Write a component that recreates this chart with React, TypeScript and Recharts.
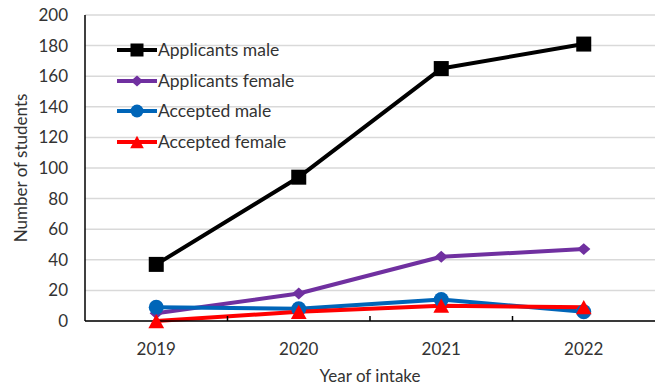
import { LineChart, Line, XAxis, YAxis, CartesianGrid, Legend } from 'recharts';

const years = ['2019', '2020', '2021', '2022'];
const applicantsMale = [37, 94, 165, 181];
const applicantsFemale = [5, 18, 42, 47];
const acceptedMale = [9, 8, 14, 6];
const acceptedFemale = [0, 6, 10, 9];
const yTicks = [0, 20, 40, 60, 80, 100, 120, 140, 160, 180, 200];

const data = years.map((year, i) => ({
  year,
  applicantsMale: applicantsMale[i],
  applicantsFemale: applicantsFemale[i],
  acceptedMale: acceptedMale[i],
  acceptedFemale: acceptedFemale[i],
}));

const W = 664;
const H = 386;
const M = { top: 15, right: 9, bottom: 0, left: 0 };
const Y_W = 85;
const X_H = 65;
const PLOT_W = W - M.left - M.right - Y_W;
const HALF_BAND = PLOT_W / years.length / 2;
const FONT = 'Lato, "Liberation Sans", sans-serif';
const TEXT = '#333';

type Marker = 'square' | 'diamond' | 'circle' | 'triangle';

const markerShape = (kind: Marker, cx: number, cy: number, color: string, s: number, key?: string | number) => {
  if (kind === 'square') {
    return <rect key={key} x={cx - s / 2} y={cy - s / 2} width={s} height={s} fill={color} />;
  }
  if (kind === 'circle') {
    return <circle key={key} cx={cx} cy={cy} r={s / 2} fill={color} />;
  }
  if (kind === 'diamond') {
    const w = s * 0.95;
    const h = s * 0.85;
    return (
      <polygon key={key} fill={color}
        points={`${cx},${cy - h / 2} ${cx + w / 2},${cy} ${cx},${cy + h / 2} ${cx - w / 2},${cy}`} />
    );
  }
  const w = s * 1.05;
  const h = s * 0.95;
  return (
    <polygon key={key} fill={color}
      points={`${cx},${cy - h / 2} ${cx + w / 2},${cy + h / 2} ${cx - w / 2},${cy + h / 2}`} />
  );
};

const series: { key: string; name: string; color: string; marker: Marker }[] = [
  { key: 'applicantsMale', name: 'Applicants male', color: '#000000', marker: 'square' },
  { key: 'applicantsFemale', name: 'Applicants female', color: '#7030a0', marker: 'diamond' },
  { key: 'acceptedMale', name: 'Accepted male', color: '#0065b8', marker: 'circle' },
  { key: 'acceptedFemale', name: 'Accepted female', color: '#ff0000', marker: 'triangle' },
];

// year label plus a short inward tick at the boundary to the next category
const YearTick = (props: { x?: number; y?: number; payload?: { value: string; index: number } }) => {
  const { x = 0, y = 0, payload } = props;
  if (!payload) return null;
  const idx = years.indexOf(payload.value);
  return (
    <g>
      {idx < years.length - 1 && (
        <line x1={x + HALF_BAND} x2={x + HALF_BAND} y1={y - 5} y2={y} stroke="#000" strokeWidth={1.5} />
      )}
      <text x={x} y={y + 34} textAnchor="middle" fontSize={17} fill={TEXT} fontFamily={FONT}>
        {payload.value}
      </text>
    </g>
  );
};

const LegendBox = () => (
  <div style={{ fontFamily: FONT, fontSize: 17.5, color: TEXT }}>
    {series.map(s => (
      <div key={s.key} style={{ display: 'flex', alignItems: 'center', height: 30.5 }}>
        <svg width={41} height={20} style={{ display: 'block' }}>
          <line x1={0} x2={40} y1={10} y2={10} stroke={s.color} strokeWidth={4} />
          {markerShape(s.marker, 20, 10, s.color, 13)}
        </svg>
        <span style={{ lineHeight: '20px' }}>{s.name}</span>
      </div>
    ))}
  </div>
);

export default function App() {
  return (
    <div style={{ position: 'absolute', left: 0, top: 0, width: W, height: H, background: '#fff', fontFamily: FONT }}>
      <LineChart width={W} height={H} data={data} margin={M}>
        <CartesianGrid vertical={false} stroke="#d9d9d9" strokeWidth={1.5} yAxisId="left" />
        <XAxis
          dataKey="year"
          height={X_H}
          padding={{ left: HALF_BAND, right: HALF_BAND }}
          axisLine={{ stroke: '#000', strokeWidth: 1.5 }}
          tickLine={false}
          tickSize={0}
          tickMargin={0}
          interval={0}
          tick={<YearTick />}
          label={{ value: 'Year of intake', position: 'insideBottom', offset: 4, fill: TEXT, fontSize: 17 }}
        />
        <XAxis
          xAxisId="top"
          dataKey="year"
          orientation="top"
          height={0}
          tick={false}
          tickLine={false}
          axisLine={{ stroke: '#262626', strokeWidth: 1.5 }}
        />
        <YAxis
          yAxisId="left"
          width={Y_W}
          domain={[0, 200]}
          ticks={yTicks}
          interval={0}
          axisLine={{ stroke: '#000', strokeWidth: 1.5 }}
          tickLine={false}
          tickMargin={11}
          tick={{ fill: TEXT, fontSize: 17 }}
          label={{ value: 'Number of students', angle: -90, position: 'insideLeft', offset: 21, fill: TEXT, fontSize: 17, style: { textAnchor: 'middle' } }}
        />
        <YAxis
          yAxisId="right"
          orientation="right"
          width={0}
          domain={[0, 200]}
          tick={false}
          tickLine={false}
          axisLine={{ stroke: '#262626', strokeWidth: 1.5 }}
        />
        <Legend
          layout="horizontal"
          verticalAlign="middle"
          align="center"
          content={<LegendBox />}
          wrapperStyle={{ top: 35, left: 117, width: 220 }}
        />
        {series.map(s => (
          <Line
            key={s.key}
            yAxisId="left"
            dataKey={s.key}
            name={s.name}
            stroke={s.color}
            strokeWidth={4}
            strokeLinejoin="round"
            isAnimationActive={false}
            dot={(p: { cx?: number; cy?: number; index?: number }) =>
              markerShape(s.marker, p.cx ?? 0, p.cy ?? 0, s.color, s.marker === 'diamond' ? 14 : 15, `${s.key}-${p.index}`)}
            activeDot={false}
          />
        ))}
      </LineChart>
    </div>
  );
}
